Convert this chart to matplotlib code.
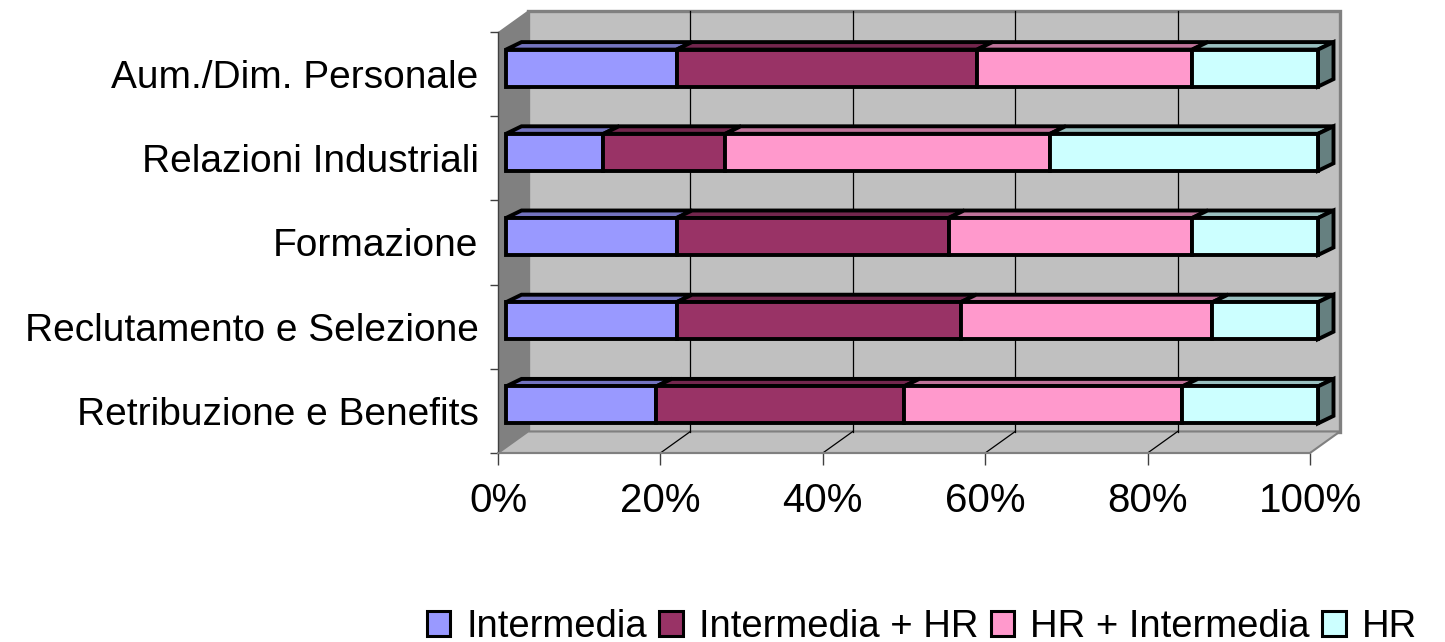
import matplotlib
matplotlib.use('Agg')
import matplotlib.pyplot as plt
from matplotlib.patches import Polygon, Rectangle
from matplotlib.colors import to_rgb

# ---------------- data ----------------
categories = ['Retribuzione e Benefits', 'Reclutamento e Selezione', 'Formazione',
              'Relazioni Industriali', 'Aum./Dim. Personale']
series_names = ['Intermedia', 'Intermedia + HR', 'HR + Intermedia', 'HR']
intermedia = [18.5, 21.0, 21.0, 12.0, 21.0]
intermedia_hr = [30.5, 35.0, 33.5, 15.0, 37.0]
hr_intermedia = [34.3, 31.0, 30.0, 40.0, 26.5]
hr = [16.7, 13.0, 15.5, 33.0, 15.5]
x_ticks = [0, 20, 40, 60, 80, 100]
x_tick_labels = ['0%', '20%', '40%', '60%', '80%', '100%']

series_values = [intermedia, intermedia_hr, hr_intermedia, hr]
colors = ['#9999FF', '#993366', '#FF99CC', '#CCFFFF']

plt.rcParams['font.family'] = ['Liberation Sans', 'DejaVu Sans']

W, H = 1445, 642
fig = plt.figure(figsize=(W / 100, H / 100), dpi=100)
ax = fig.add_axes([498 / W, (H - 453) / H, 812 / W, (453 - 32) / H])
ax.set_xlim(0, 100)
ax.set_ylim(-0.5, len(categories) - 0.5)
ax.patch.set_visible(False)

# pixel scales -> data units
px_x = 812 / 100.0
px_y = 421 / len(categories)

# depth vectors (data units)
wdx, wdy = 30 / px_x, 21.5 / px_y        # wall depth
fdx, fdy = 8 / px_x, 6 / px_y            # bar front face offset
bdx, bdy = 15.5 / px_x, 7.5 / px_y       # bar depth
bh = 37 / px_y                           # bar height

y_lo, y_hi = -0.5, len(categories) - 0.5


def shade(c, f):
    r, g, b = to_rgb(c)
    return (r * f, g * f, b * f)


def poly(pts, fc, ec, lw, z):
    p = Polygon(pts, closed=True, facecolor=fc, edgecolor=ec, linewidth=lw,
                clip_on=False, zorder=z, joinstyle='miter')
    ax.add_patch(p)


# walls
poly([(0 + wdx, y_lo + wdy), (100 + wdx, y_lo + wdy), (100 + wdx, y_hi + wdy), (0 + wdx, y_hi + wdy)],
     '#C0C0C0', '#808080', 2.4, 0.3)
poly([(0, y_lo), (0, y_hi), (wdx, y_hi + wdy), (wdx, y_lo + wdy)], '#808080', 'none', 0, 0.4)
poly([(0, y_lo), (100, y_lo), (100 + wdx, y_lo + wdy), (wdx, y_lo + wdy)], '#C0C0C0', '#808080', 1.5, 0.4)

# gridlines on back wall and floor
for xv in x_ticks[1:-1]:
    ax.plot([xv + wdx, xv + wdx], [y_lo + wdy, y_hi + wdy], color='black', lw=0.9, zorder=0.6, clip_on=False)
    ax.plot([xv, xv + wdx], [y_lo, y_lo + wdy], color='black', lw=0.9, zorder=0.6, clip_on=False)

# bars
lw = 2.8
for i in range(len(categories)):
    left = 0.0
    n = len(series_values)
    for j in range(n):
        w = series_values[j][i]
        x0 = left + fdx
        x1 = x0 + w
        y0 = i + fdy - bh / 2
        y1 = y0 + bh
        c = colors[j]
        z = 2 + i * 0.1
        poly([(x0, y1), (x1, y1), (x1 + bdx, y1 + bdy), (x0 + bdx, y1 + bdy)], shade(c, 0.75), 'black', lw, z)
        if j == n - 1:
            poly([(x1, y0), (x1 + bdx, y0 + bdy), (x1 + bdx, y1 + bdy), (x1, y1)], shade(c, 0.5), 'black', lw, z)
        poly([(x0, y0), (x1, y0), (x1, y1), (x0, y1)], c, 'black', lw, z + 0.01)
        left += w

# axes / ticks
for s in ['top', 'right']:
    ax.spines[s].set_visible(False)
ax.spines['left'].set_color('#404040')
ax.spines['bottom'].set_color('#808080')
ax.spines['left'].set_linewidth(1.0)
ax.spines['bottom'].set_linewidth(1.5)

ax.set_xticks(x_ticks)
ax.set_xticklabels(x_tick_labels, fontsize=29)
ax.tick_params(axis='x', direction='out', length=8.6, width=1.0, color='#404040', pad=12)

bounds = [k - 0.5 for k in range(len(categories) + 1)]
ax.set_yticks(bounds)
ax.set_yticklabels([''] * len(bounds))
ax.tick_params(axis='y', which='major', direction='out', length=5.8, width=1.0, color='#404040')
ax.set_yticks(list(range(len(categories))), minor=True)
ax.set_yticklabels(categories, minor=True, fontsize=28)
ax.tick_params(axis='y', which='minor', length=0, pad=14)

# legend
handles = [Rectangle((0, 0), 1, 1, facecolor=c, edgecolor='black', linewidth=2.2) for c in colors]
fig.legend(handles, series_names, loc='center', bbox_to_anchor=(0.638, 0.024), ncol=4,
           frameon=False, fontsize=27.5, handlelength=0.62, handleheight=0.62,
           handletextpad=0.42, columnspacing=0.32, borderaxespad=0, borderpad=0)

fig.savefig('out.png', dpi=100)
